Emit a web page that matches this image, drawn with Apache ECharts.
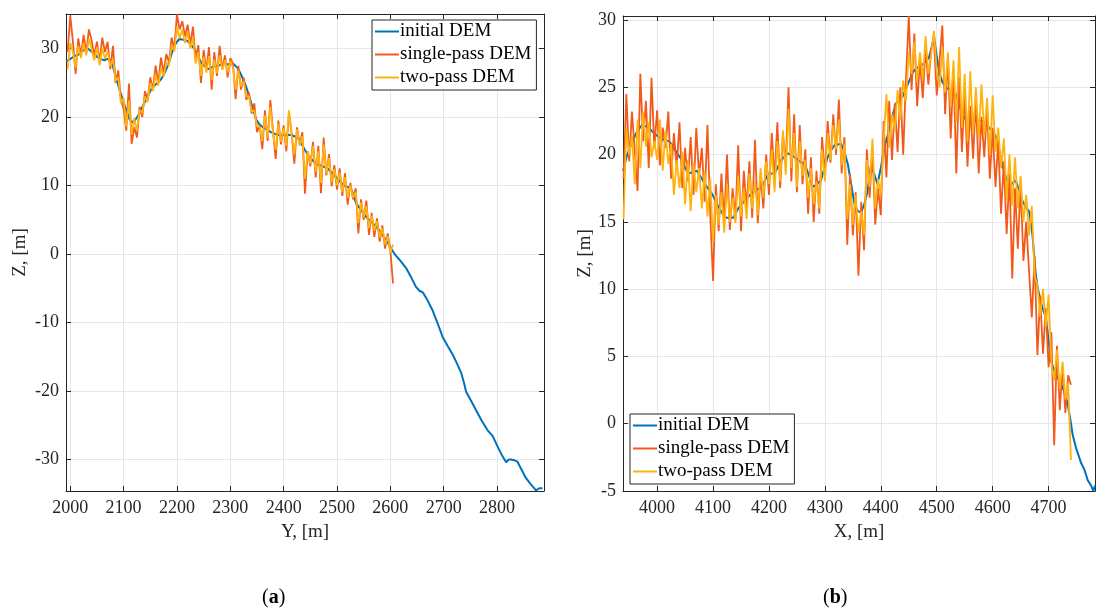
<!DOCTYPE html>
<html>
<head>
<meta charset="utf-8">
<script src="https://cdn.jsdelivr.net/npm/echarts@6/dist/echarts.min.js"></script>
<style>
html,body{margin:0;padding:0;background:#fff;}
#chart{width:1096px;height:613px;}
</style>
</head>
<body>
<div id="chart"></div>
<script>
// ---------- DATA ----------
const seriesNames = ['initial DEM', 'single-pass DEM', 'two-pass DEM'];
const panelCaptions = ['a', 'b'];

// Panel (a): initial DEM traced along Y
const blueLeftY = [1992,1998,2004,2008,2015,2022,2028,2033,2039,2045,2050,2056,2064,2070,2074,2079,2083,2088,2092,2097,2102,2107,2111,2117,2122,2127,2133,2139,2145,2152,2158,2164,2170,2176,2183,2189,2195,2200,2205,2212,2220,2226,2233,2239,2245,2251,2258,2266,2276,2285,2295,2307,2312,2317,2323,2329,2334,2339,2344,2348,2354,2361,2368,2376,2385,2395,2405,2414,2420,2426,2432,2439,2447,2455,2464,2473,2482,2489,2495,2504,2513,2520,2526,2531,2536,2545,2555,2564,2574,2583,2592,2600,2608,2619,2630,2639,2648,2655,2661,2670,2679,2688,2698,2708,2717,2725,2733,2738,2742,2751,2760,2771,2782,2792,2798,2804,2810,2817,2822,2826,2832,2838,2846,2854,2863,2873,2879,2885];
const blueLeftZ = [28.1,28.4,28.7,28.9,29.1,29.6,29.9,30.0,29.6,29.2,28.8,28.5,28.3,28.5,28.4,27.6,26.5,25.2,24.1,22.9,21.7,20.6,19.7,19.2,19.6,20.2,21.1,22.1,23.0,24.1,24.6,25.0,25.5,26.3,27.5,29.0,30.4,31.0,31.4,31.3,31.1,30.6,29.9,28.9,28.0,27.5,27.0,27.3,27.5,27.7,27.7,27.7,27.3,26.7,25.7,24.6,23.4,22.1,20.8,19.7,19.0,18.5,18.2,17.8,17.5,17.3,17.4,17.4,17.2,17.0,16.3,15.3,14.3,13.6,13.1,12.8,12.5,12.0,11.5,10.7,10.0,9.8,9.6,8.5,7.4,6.4,5.4,4.7,4.0,3.0,2.0,1.0,0.0,-1.0,-2.1,-3.4,-4.8,-5.4,-5.6,-6.8,-8.2,-10.0,-12.1,-13.5,-14.7,-16.0,-17.4,-18.8,-20.1,-21.4,-22.7,-24.3,-25.7,-26.6,-27.6,-28.6,-29.5,-30.4,-30.0,-30.0,-30.1,-30.3,-31.5,-32.7,-33.6,-34.5,-34.2,-34.2];

// Panel (a): noisy DEMs sampled every 5 m from Y = 1995
const leftStartY = 1995, leftStepY = 5;
const singleLeftZ = [29.5,34.8,31.0,26.3,31.5,29.0,32.0,29.4,32.8,31.2,29.0,31.0,28.0,31.6,29.5,31.0,27.0,30.4,25.0,26.8,22.5,21.2,18.0,24.9,16.1,18.5,17.0,21.5,20.0,23.8,22.5,25.8,24.0,27.5,25.0,28.7,26.5,29.2,28.0,31.6,30.0,35.0,32.8,34.0,31.8,33.5,30.6,33.2,28.2,30.5,25.0,29.8,26.8,30.2,24.0,29.5,26.0,30.4,27.0,29.0,25.8,28.6,27.8,22.6,27.5,24.0,25.8,22.5,23.6,20.5,22.0,17.8,18.8,15.3,21.0,16.5,22.5,18.0,13.9,19.5,16.0,18.8,15.0,20.7,17.6,13.2,18.5,16.0,17.8,8.8,15.0,12.8,16.4,11.2,15.8,8.9,17.0,11.5,14.6,9.9,13.0,9.4,12.5,8.5,11.8,7.2,10.4,8.0,9.6,3.0,8.0,5.0,7.8,2.8,6.0,2.5,5.2,1.8,4.2,0.8,3.0,0.5,-4.3];
const twoLeftZ = [27.0,30.8,29.5,27.2,30.4,28.6,30.8,29.0,31.4,30.0,28.3,30.2,27.6,30.0,28.5,29.6,27.4,28.5,25.3,25.8,22.0,22.8,18.6,22.4,17.4,19.8,18.0,21.0,20.6,23.0,22.2,25.0,23.8,26.2,24.6,27.2,25.9,28.0,27.5,30.5,29.6,33.2,31.5,32.8,30.8,32.4,30.0,31.6,27.8,29.5,26.0,28.8,26.5,28.9,25.4,28.4,26.4,29.0,26.9,28.3,26.5,28.2,27.2,24.0,26.8,24.5,25.2,23.0,23.0,20.8,21.0,18.6,18.6,16.5,20.2,17.0,21.5,17.6,15.2,19.0,16.4,18.4,15.8,21.0,17.2,14.5,18.2,15.8,17.2,11.0,15.0,13.2,15.8,12.0,15.0,10.4,16.0,11.8,14.0,10.5,12.4,10.0,11.9,9.0,11.2,8.2,10.0,8.2,9.0,4.5,7.5,5.4,7.0,3.8,5.6,3.4,4.8,2.4,3.8,1.4,2.6,0.2,1.4];

// Panel (b): initial DEM traced along X
const blueRightX = [3939,3946,3956,3964,3973,3985,3994,4003,4012,4021,4027,4033,4039,4044,4050,4056,4064,4071,4080,4089,4098,4104,4110,4117,4124,4136,4145,4151,4157,4166,4175,4187,4193,4199,4210,4216,4222,4234,4246,4255,4264,4271,4279,4286,4293,4299,4305,4311,4317,4329,4335,4341,4347,4353,4359,4365,4371,4376,4382,4388,4394,4400,4406,4415,4421,4427,4439,4445,4451,4457,4463,4475,4486,4491,4495,4499,4504,4510,4516,4525,4534,4540,4546,4552,4558,4570,4582,4594,4600,4606,4612,4618,4624,4630,4636,4641,4647,4653,4659,4665,4668,4671,4674,4677,4681,4686,4690,4695,4700,4704,4709,4713,4719,4725,4730,4734,4739,4743,4749,4754,4758,4764,4770,4776,4780,4783];
const blueRightZ = [18.8,19.9,21.0,21.7,22.2,22.0,21.6,21.3,21.1,21.0,20.7,20.3,19.9,19.6,19.0,18.6,18.7,18.8,18.2,17.6,17.1,16.6,16.1,15.6,15.3,15.3,16.0,16.3,16.6,17.0,17.3,17.6,18.1,18.6,18.6,19.1,19.6,20.1,19.8,19.5,19.3,18.5,17.6,17.8,18.1,19.0,19.8,20.3,20.7,20.8,20.2,19.3,17.8,16.3,15.8,15.7,16.4,17.2,19.1,18.6,17.8,19.0,20.5,21.8,22.9,23.8,24.3,24.9,25.5,26.1,26.4,26.7,27.2,28.0,28.8,27.6,26.2,25.4,25.0,24.8,24.5,23.7,23.0,22.6,22.3,22.5,22.5,22.0,21.7,21.3,20.3,19.1,18.3,17.6,17.9,18.1,17.4,16.6,16.1,15.8,15.0,14.1,12.6,11.1,10.0,9.1,8.5,7.9,6.2,4.7,4.1,3.7,3.2,2.7,2.1,1.5,0.3,-0.8,-1.8,-2.4,-2.9,-3.4,-4.2,-4.6,-5.0,-4.6];

// Panel (b): noisy DEMs sampled every 5 m from X = 3940
const rightStartX = 3940, rightStepX = 5;
const singleRightZ = [18.2,24.5,19.5,23.2,20.3,17.3,26.0,21.0,24.0,19.0,25.7,20.5,23.3,19.2,22.0,20.5,23.2,18.2,21.6,19.0,22.4,17.5,20.5,18.0,21.3,17.0,22.0,18.4,20.5,16.5,22.2,15.6,10.6,17.8,14.3,18.6,15.0,20.0,14.4,17.5,15.2,20.7,14.3,18.8,16.0,19.5,15.3,21.1,14.9,18.5,16.0,20.0,17.0,21.6,18.2,22.4,17.5,21.5,19.3,25.0,18.0,23.0,17.2,22.2,17.8,20.4,15.6,19.8,15.0,18.8,15.6,21.3,18.5,22.5,19.4,23.0,20.0,24.1,18.6,21.3,13.3,18.6,14.0,17.2,11.0,16.5,12.9,20.4,16.8,20.5,14.8,17.5,15.5,22.5,18.3,24.0,19.6,23.8,20.2,25.0,20.0,25.6,30.3,24.8,29.0,23.6,27.0,24.2,28.0,25.2,27.8,28.6,24.4,27.0,29.6,23.0,27.2,21.2,26.4,18.6,25.8,20.2,24.7,19.1,23.6,19.7,24.2,18.6,22.8,19.8,23.5,18.2,22.0,17.6,21.0,15.6,19.5,14.1,18.6,10.8,17.5,13.0,17.8,12.1,15.0,11.4,7.9,12.5,5.1,9.5,5.2,8.6,4.2,6.8,-1.6,5.8,1.0,4.2,0.8,3.6,2.9];
const twoRightZ = [15.2,22.0,20.0,21.4,17.8,22.6,19.0,23.2,20.6,22.4,19.8,21.0,19.6,22.6,18.8,21.8,19.3,20.8,17.0,19.6,17.5,20.2,16.3,19.6,15.8,19.4,17.2,19.0,16.0,18.8,15.4,18.2,13.5,17.0,14.8,17.2,14.2,17.8,15.0,16.8,14.9,18.4,15.4,17.5,15.2,18.6,16.0,18.0,15.5,19.0,16.8,19.5,17.8,20.4,17.2,21.0,18.0,21.8,18.5,23.4,19.0,21.6,17.6,21.0,18.4,19.6,16.8,19.0,16.3,18.0,16.0,20.4,18.0,21.6,19.6,22.2,20.4,22.6,19.2,20.8,15.2,17.8,14.8,17.0,14.2,15.8,14.0,19.6,17.6,21.2,16.0,18.2,17.0,21.0,24.5,20.5,23.0,21.8,24.8,22.6,25.5,24.0,27.6,26.0,28.4,25.4,27.6,25.6,28.8,26.0,27.4,29.2,26.2,25.0,28.0,24.6,27.6,23.6,27.0,22.4,28.0,22.0,26.0,21.0,26.2,21.6,25.0,21.2,25.2,21.4,24.2,20.0,24.4,20.2,22.0,19.0,21.2,16.6,20.0,16.2,19.8,16.0,18.4,15.0,17.0,14.0,16.2,11.0,10.3,8.0,10.0,7.2,9.6,4.5,3.2,5.5,2.6,4.6,1.8,3.0,-2.7];

// ---------- BUILD ----------
function pairs(xs, ys) { return xs.map((x, i) => [x, ys[i]]); }
function sampled(start, step, ys) { return ys.map((y, i) => [start + i * step, y]); }

const FONT = 'Liberation Serif';
const colors = ['#0072BD', '#F25A1C', '#FFB30F'];
const axisColor = '#262626';
const gridColor = '#e6e6e6';
const plain = v => String(v);

function mainX(gridIndex, min, max, name) {
  return {
    type: 'value', gridIndex, min, max, minInterval: 100, maxInterval: 100, splitNumber: 9,
    position: 'bottom',
    name, nameLocation: 'middle', nameGap: 32,
    nameTextStyle: { fontFamily: FONT, fontSize: 19, color: '#262626' },
    axisLine: { show: true, onZero: false, lineStyle: { color: axisColor, width: 1 } },
    axisTick: { show: true, inside: true, length: 5, lineStyle: { color: axisColor } },
    axisLabel: { fontFamily: FONT, fontSize: 18, color: '#262626', margin: 8, showMinLabel: false, showMaxLabel: false, formatter: plain },
    splitLine: { show: true, lineStyle: { color: gridColor, width: 1 } }
  };
}
function topX(gridIndex, min, max) {
  return {
    type: 'value', gridIndex, min, max, minInterval: 100, maxInterval: 100, splitNumber: 9,
    position: 'top',
    axisLine: { show: true, onZero: false, lineStyle: { color: axisColor, width: 1 } },
    axisTick: { show: true, inside: true, length: 5, lineStyle: { color: axisColor } },
    axisLabel: { show: false }, splitLine: { show: false }
  };
}
function mainY(gridIndex, min, max, step, name, gap, showMin) {
  return {
    type: 'value', gridIndex, min, max, minInterval: step, maxInterval: step, splitNumber: 7,
    position: 'left',
    name, nameLocation: 'middle', nameGap: gap,
    nameTextStyle: { fontFamily: FONT, fontSize: 19, color: '#262626' },
    axisLine: { show: true, onZero: false, lineStyle: { color: axisColor, width: 1 } },
    axisTick: { show: true, inside: true, length: 5, lineStyle: { color: axisColor } },
    axisLabel: { fontFamily: FONT, fontSize: 18, color: '#262626', margin: 7, showMinLabel: showMin, showMaxLabel: false, formatter: plain },
    splitLine: { show: true, lineStyle: { color: gridColor, width: 1 } }
  };
}
function rightY(gridIndex, min, max, step) {
  return {
    type: 'value', gridIndex, min, max, minInterval: step, maxInterval: step, splitNumber: 7,
    position: 'right',
    axisLine: { show: true, onZero: false, lineStyle: { color: axisColor, width: 1 } },
    axisTick: { show: true, inside: true, length: 5, lineStyle: { color: axisColor } },
    axisLabel: { show: false }, splitLine: { show: false }
  };
}
function line(name, data, xi, yi, color, width) {
  return {
    type: 'line', name, data, xAxisIndex: xi, yAxisIndex: yi,
    symbol: 'none', showSymbol: false, animation: false, clip: true,
    lineStyle: { color, width }, itemStyle: { color }
  };
}
function legend(left, top) {
  return {
    data: seriesNames, orient: 'vertical', left, top,
    backgroundColor: '#fff', borderColor: axisColor, borderWidth: 1,
    padding: [2, 5, 3, 3], itemGap: 4, itemWidth: 24, itemHeight: 19,
    icon: 'path://M0,9 L24,9 L24,11 L0,11 Z',
    textStyle: { fontFamily: FONT, fontSize: 19, color: '#000', padding: [0, 0, 0, -4] },
    selectedMode: false
  };
}

const option = {
  animation: false,
  color: colors,
  textStyle: { fontFamily: FONT },
  grid: [
    { left: 66, top: 14, width: 478, height: 477, show: false },
    { left: 623, top: 16, width: 472, height: 475, show: false }
  ],
  xAxis: [
    mainX(0, 1992, 2888, 'Y, [m]'),
    topX(0, 1992, 2888),
    mainX(1, 3939, 4783, 'X, [m]'),
    topX(1, 3939, 4783)
  ],
  yAxis: [
    mainY(0, -34.6, 35.05, 10, 'Z, [m]', 36, false),
    rightY(0, -34.6, 35.05, 10),
    mainY(1, -5, 30.3, 5, 'Z, [m]', 28, true),
    rightY(1, -5, 30.3, 5)
  ],
  legend: [legend(372, 20), legend(630, 414)],
  series: [
    line(seriesNames[0], pairs(blueLeftY, blueLeftZ), 0, 0, colors[0], 2),
    line(seriesNames[1], sampled(leftStartY, leftStepY, singleLeftZ), 0, 0, colors[1], 1.8),
    line(seriesNames[2], sampled(leftStartY, leftStepY, twoLeftZ), 0, 0, colors[2], 1.8),
    line(seriesNames[0], pairs(blueRightX, blueRightZ), 2, 2, colors[0], 2),
    line(seriesNames[1], sampled(rightStartX, rightStepX, singleRightZ), 2, 2, colors[1], 1.8),
    line(seriesNames[2], sampled(rightStartX, rightStepX, twoRightZ), 2, 2, colors[2], 1.8)
  ],
  graphic: [
    { type: 'text', left: 262, top: 588, style: { text: '({a|' + panelCaptions[0] + '})', font: '20px "Liberation Serif"', fill: '#000', rich: { a: { fontFamily: FONT, fontSize: 20, fontWeight: 'bold' } } } },
    { type: 'text', left: 823, top: 588, style: { text: '({a|' + panelCaptions[1] + '})', font: '20px "Liberation Serif"', fill: '#000', rich: { a: { fontFamily: FONT, fontSize: 20, fontWeight: 'bold' } } } }
  ]
};

const chart = echarts.init(document.getElementById('chart'), null, { renderer: 'canvas' });
chart.setOption(option);
</script>
</body>
</html>
